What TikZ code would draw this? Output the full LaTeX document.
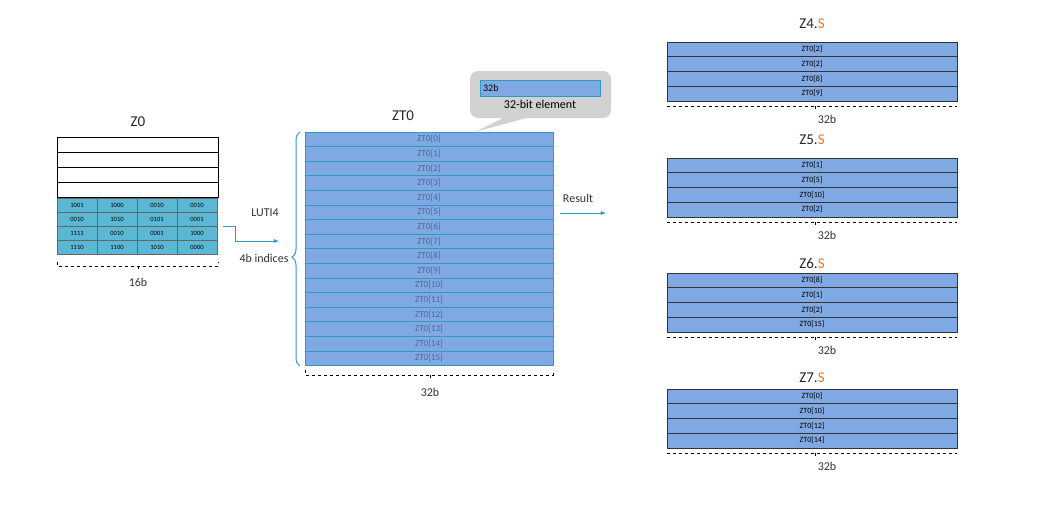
\documentclass[tikz,border=0pt]{standalone}
\usepackage{fontspec}
\setmainfont{Carlito}
\usetikzlibrary{decorations.pathreplacing}
\definecolor{cellc}{HTML}{5BB8D4}
\definecolor{ztc}{HTML}{80A8E2}
\definecolor{ztb}{HTML}{2E9AC4}
\definecolor{ztt}{HTML}{4A6A90}
\definecolor{orng}{HTML}{E8782A}
\tikzset{
  cell/.style={draw=gray!80!black, fill=cellc, line width=0.8pt, minimum width=40pt, minimum height=14pt, inner sep=0pt, font=\fontsize{6.5}{7}\selectfont},
  wrow/.style={draw, line width=0.9pt, minimum width=161pt, minimum height=15pt, inner sep=0pt},
  ztrow/.style={draw=ztb, fill=ztc, line width=0.8pt, minimum width=248pt, minimum height=14.6pt, inner sep=0pt, text=ztt, font=\fontsize{9}{9}\selectfont},
  zrow/.style={draw=black!80, fill=ztc, line width=0.6pt, minimum width=290pt, minimum height=14.7pt, inner sep=0pt, font=\fontsize{8}{8}\selectfont},
  dim/.style={dashed, line width=0.7pt},
  lbl/.style={font=\fontsize{12}{12}\selectfont, text=black!80},
  ttl/.style={font=\fontsize{15}{15}\selectfont, text=black!85},
  blue arrow/.style={draw=ztb, line width=0.8pt, -latex}
}
\begin{document}
\begin{tikzpicture}[x=1pt,y=-1pt]
\useasboundingbox (0,0) rectangle (1038,530);

% Z0
\path (138,122) node (Z0t) [ttl] {Z0};
\foreach \r in {0,...,3}
  \path (137.5,145+15*\r) node (w\r) [wrow] {};
\path (77,205) node (c00) [cell] {1001};
\path (117,205) node (c01) [cell] {1000};
\path (157,205) node (c02) [cell] {0010};
\path (197,205) node (c03) [cell] {0010};
\path (77,219) node (c10) [cell] {0010};
\path (117,219) node (c11) [cell] {1010};
\path (157,219) node (c12) [cell] {0101};
\path (197,219) node (c13) [cell] {0001};
\path (77,233) node (c20) [cell] {1111};
\path (117,233) node (c21) [cell] {0010};
\path (157,233) node (c22) [cell] {0001};
\path (197,233) node (c23) [cell] {1000};
\path (77,247) node (c30) [cell] {1110};
\path (117,247) node (c31) [cell] {1100};
\path (157,247) node (c32) [cell] {1010};
\path (197,247) node (c33) [cell] {0000};
\draw [dim] (57,262) -- (57,266) -- (218,266) -- (218,262);
\draw [dim] (138,266) -- (138,270);
\path (138,282) node (b16) [lbl] {16b};

% LUTI4
\path (265,213) node (luti) [lbl] {LUTI4};
\path (264,258) node (idx) [lbl] {4b indices};
\coordinate (bt) at (279,241);
\draw [blue arrow] (c13.east) ++(6,7) -- ++(12,0) |- (bt);

% ZT0
\path (403,116) node (ZTt) [ttl] {ZT0};
\foreach \r in {0,...,15}
  \path (429,139.3+14.6*\r) node (z\r) [ztrow] {ZT0[\r]};
\draw [ztb, line width=1pt, decorate, decoration={brace, amplitude=8pt, aspect=0.465}]
  (300,366) -- (300,132);
\draw [dim] (305,370) -- (305,375) -- (553,375) -- (553,370);
\draw [dim] (430,375) -- (430,380);
\path (430,392) node (b32) [lbl] {32b};

% callout
\path [fill=black!18, rounded corners=8pt] (470,71) rectangle (611,118);
\path [fill=black!18] (505,117) -- (530,117) -- (475,132) -- cycle;
\path (540,88) node (cb) [draw=ztb, fill=ztc, line width=0.8pt, minimum width=120pt, minimum height=16pt, inner sep=0pt] {};
\path (cb.west) node [anchor=west, font=\fontsize{10}{10}\selectfont] {32b};
\path (540,104) node (ce) [lbl, text=black] {32-bit element};

% result
\path (578,198) node (res) [lbl] {Result};
\coordinate (ra) at (560,213);
\coordinate (rb) at (606,213);
\draw [blue arrow] (ra) -- (rb);

% Z4.S .. Z7.S
\foreach \n/\ty/\ry/\a/\b/\c/\d in {4/24/42/2/2/8/9, 5/140/158/1/5/10/2, 6/263/273/8/1/2/15, 7/378/389/0/10/12/14}{
  \path (812,\ty) node (T\n) [ttl] {Z\n.\textcolor{orng}{S}};
  \path (812,\ry+7.35) node (r\n a) [zrow] {ZT0[\a]};
  \path (812,\ry+22.05) node (r\n b) [zrow] {ZT0[\b]};
  \path (812,\ry+36.75) node (r\n c) [zrow] {ZT0[\c]};
  \path (812,\ry+51.45) node (r\n d) [zrow] {ZT0[\d]};
  \draw [dim] (667,\ry+64) -- (957,\ry+64);
  \draw [dim] (815,\ry+64) -- (815,\ry+69);
  \path (827,\ry+77) node (d\n) [lbl] {32b};
}
\end{tikzpicture}
\end{document}
